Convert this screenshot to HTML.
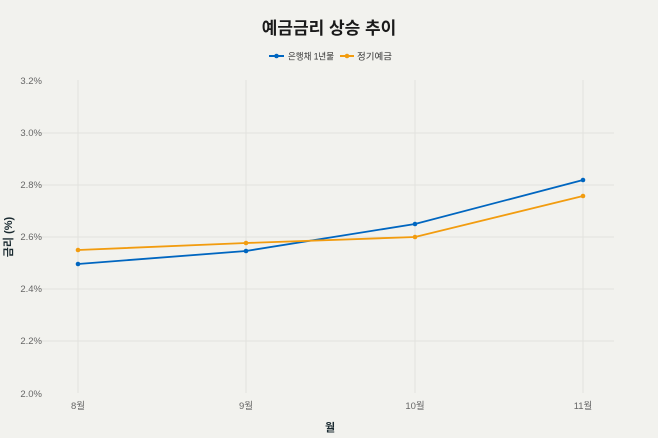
<!DOCTYPE html>
<html><head><meta charset="utf-8"><style>
body{margin:0;background:#f2f2ee;}
svg{display:block;font-family:"Liberation Sans","Noto Sans CJK KR",sans-serif;}
</style></head><body>
<svg width="658" height="438" viewBox="0 0 658 438">
<rect width="658" height="438" fill="#f2f2ee"/>
<text x="329" y="34" text-anchor="middle" font-size="17" font-weight="bold" fill="#1a1a1a">예금금리 상승 추이</text>
<g font-size="9" fill="#333">
<line x1="269" y1="56" x2="284" y2="56" stroke="#0066c0" stroke-width="2"/><circle cx="276.5" cy="56" r="2.3" fill="#0066c0"/>
<text x="288" y="59.5" textLength="46" lengthAdjust="spacingAndGlyphs">은행채 1년물</text>
<line x1="340" y1="56" x2="354" y2="56" stroke="#f29c0f" stroke-width="2"/><circle cx="347" cy="56" r="2.3" fill="#f29c0f"/>
<text x="357" y="59.5" textLength="35" lengthAdjust="spacingAndGlyphs">정기예금</text>
</g>
<g stroke="#e2e2de" stroke-width="1">
<line x1="78" y1="80" x2="78" y2="393"/><line x1="246" y1="80" x2="246" y2="393"/>
<line x1="415" y1="80" x2="415" y2="393"/><line x1="583" y1="80" x2="583" y2="393"/>
<line x1="40" y1="133" x2="614" y2="133"/><line x1="40" y1="185" x2="614" y2="185"/>
<line x1="40" y1="237" x2="614" y2="237"/><line x1="40" y1="289" x2="614" y2="289"/>
<line x1="40" y1="341" x2="614" y2="341"/>
</g>
<g font-size="9.5" fill="#666" text-anchor="end">
<text x="42" y="84">3.2%</text><text x="42" y="136">3.0%</text><text x="42" y="188">2.8%</text>
<text x="42" y="240">2.6%</text><text x="42" y="292">2.4%</text><text x="42" y="344">2.2%</text>
<text x="42" y="397">2.0%</text>
</g>
<g font-size="9.5" fill="#666" text-anchor="middle">
<text x="78" y="409">8월</text><text x="246" y="409">9월</text><text x="415" y="409">10월</text><text x="583" y="409">11월</text>
</g>
<text x="330" y="431" text-anchor="middle" font-size="11" font-weight="bold" fill="#1a2a30">월</text>
<text transform="translate(12,237) rotate(-90)" text-anchor="middle" font-size="11" font-weight="bold" fill="#1a2a30">금리 (%)</text>
<polyline points="78,264 246,251 415,224 583,180" fill="none" stroke="#0066c0" stroke-width="1.8"/>
<g fill="#0066c0"><circle cx="78" cy="264" r="2.3"/><circle cx="246" cy="251" r="2.3"/><circle cx="415" cy="224" r="2.3"/><circle cx="583" cy="180" r="2.3"/></g>
<polyline points="78,250 246,243 415,237 583,196" fill="none" stroke="#f29c0f" stroke-width="1.8"/>
<g fill="#f29c0f"><circle cx="78" cy="250" r="2.3"/><circle cx="246" cy="243" r="2.3"/><circle cx="415" cy="237" r="2.3"/><circle cx="583" cy="196" r="2.3"/></g>
</svg>
</body></html>
